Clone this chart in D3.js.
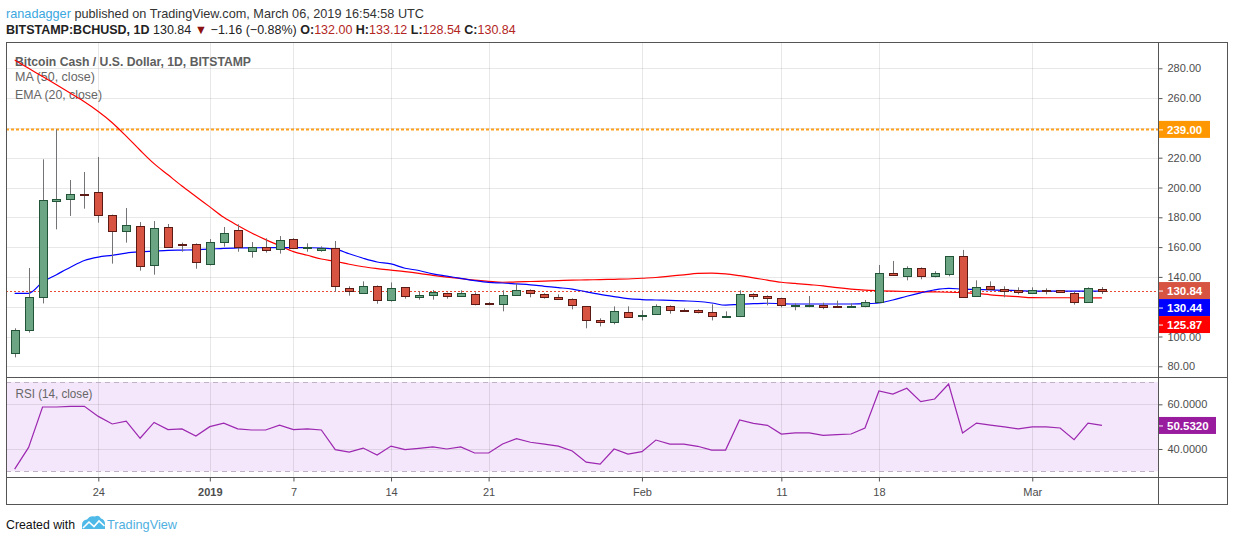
<!DOCTYPE html>
<html>
<head>
<meta charset="utf-8">
<title>BCHUSD 1D</title>
<script src="https://cdn.jsdelivr.net/npm/d3@7/dist/d3.min.js"></script>
<style>
	body { margin: 0; background: #fff; }
	svg { display: block; font-family: "Liberation Sans", Arial, sans-serif; }
</style>
</head>
<body>
<div id="chart"></div>
<script>
var dates = [
	"2018-12-18","2018-12-19","2018-12-20","2018-12-21","2018-12-22","2018-12-23","2018-12-24","2018-12-25","2018-12-26","2018-12-27",
	"2018-12-28","2018-12-29","2018-12-30","2018-12-31","2019-01-01","2019-01-02","2019-01-03","2019-01-04","2019-01-05","2019-01-06",
	"2019-01-07","2019-01-08","2019-01-09","2019-01-10","2019-01-11","2019-01-12","2019-01-13","2019-01-14","2019-01-15","2019-01-16",
	"2019-01-17","2019-01-18","2019-01-19","2019-01-20","2019-01-21","2019-01-22","2019-01-23","2019-01-24","2019-01-25","2019-01-26",
	"2019-01-27","2019-01-28","2019-01-29","2019-01-30","2019-01-31","2019-02-01","2019-02-02","2019-02-03","2019-02-04","2019-02-05",
	"2019-02-06","2019-02-07","2019-02-08","2019-02-09","2019-02-10","2019-02-11","2019-02-12","2019-02-13","2019-02-14","2019-02-15",
	"2019-02-16","2019-02-17","2019-02-18","2019-02-19","2019-02-20","2019-02-21","2019-02-22","2019-02-23","2019-02-24","2019-02-25",
	"2019-02-26","2019-02-27","2019-02-28","2019-03-01","2019-03-02","2019-03-03","2019-03-04","2019-03-05","2019-03-06"
];
var open = [
	88.7,104.2,126.3,190.8,192.2,195.4,196.7,181.3,170.6,173.9,
	147.7,173.3,162.3,161.8,148.4,163.2,171.2,157.1,160.2,158.5,
	165.2,159.2,157.8,159.2,132.3,129.0,133.7,124.3,133.0,126.3,
	127.6,129.0,126.9,128.3,122.2,121.6,127.6,131.0,128.3,126.3,
	124.9,120.2,110.8,109.5,116.2,113.5,114.9,120.2,117.6,117.6,
	116.2,113.5,113.5,128.3,126.9,125.6,120.9,120.6,120.9,120.5,
	119.8,120.3,123.2,142.4,140.4,145.8,140.4,141.7,153.8,127.0,
	133.7,131.7,131.0,129.0,131.0,131.0,129.0,123.0,132.0
];
var high = [
	105.5,146.0,218.9,239.0,205.0,210.4,220.5,181.8,186.2,176.8,
	177.5,175.5,163.0,162.5,165.4,173.5,175.3,163.4,165.9,167.4,
	166.0,162.5,160.5,164.1,133.7,137.0,134.3,136.3,133.2,130.3,
	131.2,129.5,131.0,129.6,123.1,131.0,135.7,131.6,129.0,128.3,
	125.6,120.4,112.2,120.2,120.2,117.6,121.6,120.9,118.9,118.2,
	121.6,116.9,131.0,129.0,127.6,126.0,122.2,127.2,122.7,124.1,
	122.3,124.5,148.0,150.7,147.1,146.4,143.8,154.0,158.1,137.7,
	137.0,133.7,133.0,133.0,132.3,131.2,130.3,133.0,133.12
];
var low = [
	86.0,102.6,122.2,171.9,180.9,185.8,176.4,148.9,163.0,144.2,
	141.5,159.5,156.9,145.5,147.7,160.3,156.9,152.9,156.3,155.6,
	158.9,156.9,156.9,130.1,127.4,128.8,122.0,123.4,125.4,124.7,
	124.7,125.4,126.7,120.9,120.9,116.9,127.4,126.3,125.4,124.7,
	118.2,105.5,106.8,108.2,112.7,110.8,114.7,115.3,116.7,115.5,
	110.8,113.3,113.0,124.9,120.9,119.6,117.6,119.6,118.3,119.6,
	119.6,119.6,122.5,140.9,137.7,138.4,139.7,140.4,126.0,126.8,
	131.5,126.3,128.3,128.8,128.3,129.5,121.4,122.8,128.54
];
var close = [
	104.2,126.3,191.4,192.2,195.4,194.9,181.3,170.6,174.6,147.1,
	172.6,159.8,161.6,149.8,163.2,169.2,159.8,160.1,158.5,164.5,
	159.2,160.1,159.2,133.7,130.3,133.7,124.3,132.3,126.9,127.6,
	129.6,126.9,129.0,121.6,121.6,127.6,131.0,129.0,126.3,124.9,
	120.9,110.8,109.5,116.9,112.9,114.2,120.2,117.6,116.9,116.2,
	113.5,113.8,128.3,126.9,125.6,120.9,121.2,121.1,119.6,120.1,
	120.2,123.2,142.4,141.1,145.8,140.4,142.4,153.8,126.3,133.0,
	131.7,130.3,129.7,131.0,130.3,129.7,123.0,132.4,130.84
];
var ma50 = [
	285.5,280,274.5,269,263.3,257.5,251,243.5,234.5,225,
	216,208.5,201,194,187,180,174.5,169.5,165,161,
	157,154.5,152,150.5,148.5,146.8,145.6,144.6,143.6,142.4,
	141,139.8,138.9,137.8,137,136.4,136.6,136.9,137.2,137.5,
	137.8,138,138.2,138.4,138.6,139.1,139.6,140.5,141.4,142.3,
	142.6,142,140.8,139.4,137.8,136.4,135.6,134.8,134,132.8,
	131.8,131.1,130.7,130.4,130.2,130,129.9,129.7,129.4,128.9,
	128,127.3,126.7,126.1,126,126,126,125.9,125.87
];
var ema20 = [
	129,129,136.5,141.5,146.5,151,153.3,154.5,156,156.8,
	157.3,157.8,158,158.2,158.6,159.2,159.4,159.5,159.6,159.7,
	159.7,159.6,159.4,158.7,155.5,152.5,150,148.7,145.8,144.3,
	142,140.5,139,137.5,136.3,135.9,135.3,134.7,133.7,132.8,
	131.8,130,128.3,126.8,125.4,124.8,124.5,124.2,123.9,123.5,
	122.5,121,121.6,122,122.3,122,121.8,121.8,121.8,121.8,
	121.8,122,122.5,124.5,127,129.3,131.3,132.3,131.8,131.6,
	131.3,131,130.8,130.5,130.5,130.5,130.4,130.4,130.44
];
var rsi = [
	31.0,40.7,58.8,58.8,59.1,59.1,54.6,51.2,52.5,44.8,
	51.9,48.7,49.0,45.8,50.0,51.6,49.0,48.5,48.5,50.7,
	48.7,49.0,48.5,39.7,38.6,40.4,37.3,41.3,39.7,40.3,
	40.9,40.0,40.9,38.2,38.2,42.2,44.6,43.0,42.2,41.3,
	39.1,34.1,33.2,40.0,37.7,38.8,44.0,42.2,42.2,41.2,
	39.5,39.5,53.0,51.5,50.6,46.7,47.2,47.2,46.1,46.4,
	46.7,49.4,66.0,64.6,67.2,61.2,62.4,69.1,47.2,51.6,
	50.7,49.9,49.0,49.9,49.9,49.4,44.2,51.6,50.532
];
var xTickDates = ["2018-12-24","2019-01-01","2019-01-07","2019-01-14","2019-01-21","2019-02-01","2019-02-11","2019-02-18","2019-03-01"];
var xTickLabels = ["24","2019","7","14","21","Feb","11","18","Mar"];
var priceTicks = [80,100,120,140,160,180,200,220,240,260,280];
var rsiTicks = [40,60];
var rsiBands = [30,70];
var resistance = 239;

(function() {
	"use strict";

	var chartWidth = 1234,
		chartHeight = 541,
		pane = { left: 6, right: 1158, outer: 1227, top: 42, mainBottom: 376.5, rsiBottom: 477, bottom: 504 },
		upFill = "#6ba583", upLine = "#225437",
		downFill = "#d75442", downLine = "#5b1a13",
		wickColor = "#737375",
		gridColor = "rgba(0,0,0,0.09)",
		frameColor = "#555",
		textColor = "#4d4d4d",
		valueRed = "#b3261e",
		parseDate = d3.utcParse("%Y-%m-%d"),
		boxH = 17,
		svg, x, y, yRsi, candles, mainG, lineGen;

	candles = dates.map(function(d, i) {
		return { date: parseDate(d), o: open[i], h: high[i], l: low[i], c: close[i], ma: ma50[i], ema: ema20[i], rsi: rsi[i] };
	});

	x = d3.scaleUtc()
		.domain([new Date(Date.UTC(2018, 11, 17, 9, 5)), new Date(Date.UTC(2019, 2, 10, 0, 30))])
		.range([pane.left, pane.right]);
	y = d3.scaleLinear().domain([80, 280]).range([366.3, 68.3]);
	yRsi = d3.scaleLinear().domain([30, 70]).range([471.3, 382]);

	svg = d3.select("#chart")
		.append("svg")
		.attr("width", chartWidth)
		.attr("height", chartHeight);

	var defs = svg.append("defs");
	defs.append("clipPath").attr("id", "clipMain")
		.append("rect")
		.attr("x", pane.left).attr("y", pane.top)
		.attr("width", pane.right - pane.left).attr("height", pane.mainBottom - pane.top);
	defs.append("clipPath").attr("id", "clipRsi")
		.append("rect")
		.attr("x", pane.left).attr("y", pane.mainBottom)
		.attr("width", pane.right - pane.left).attr("height", pane.rsiBottom - pane.mainBottom);

	// header
	var h1 = svg.append("text")
		.attr("x", 6).attr("y", 17.8)
		.attr("font-size", 13)
		.attr("textLength", 418).attr("lengthAdjust", "spacingAndGlyphs");
	h1.append("tspan").attr("fill", "#3ba7e0").text("ranadagger");
	h1.append("tspan").attr("fill", "#333").text(" published on TradingView.com, March 06, 2019 16:54:58 UTC");

	var h2parts = [
		{ t: "BITSTAMP:BCHUSD, 1D ", bold: true, c: "#222" },
		{ t: "130.84 ", c: "#222" },
		{ t: "\u25BC ", c: "#8b1010" },
		{ t: "\u22121.16 (\u22120.88%) ", c: "#222" },
		{ t: "O:", bold: true, c: "#222" },
		{ t: "132.00 ", c: valueRed },
		{ t: "H:", bold: true, c: "#222" },
		{ t: "133.12 ", c: valueRed },
		{ t: "L:", bold: true, c: "#222" },
		{ t: "128.54 ", c: valueRed },
		{ t: "C:", bold: true, c: "#222" },
		{ t: "130.84", c: valueRed }
	];
	svg.append("text")
		.attr("x", 6).attr("y", 34)
		.attr("font-size", 12.5)
		.style("white-space", "pre")
		.selectAll("tspan")
		.data(h2parts)
		.enter()
		.append("tspan")
		.attr("font-weight", function(d) { return d.bold ? "bold" : "normal"; })
		.attr("fill", function(d) { return d.c; })
		.text(function(d) { return d.t; });

	// rsi background + bands
	svg.append("rect")
		.attr("x", pane.left).attr("width", pane.right - pane.left)
		.attr("y", yRsi(rsiBands[1])).attr("height", yRsi(rsiBands[0]) - yRsi(rsiBands[1]))
		.attr("fill", "#f4e6fb");

	// grid
	var grid = svg.append("g").attr("stroke", gridColor).attr("stroke-width", 1);
	grid.selectAll("line.h")
		.data(priceTicks)
		.enter()
		.append("line")
		.attr("x1", pane.left).attr("x2", pane.right)
		.attr("y1", function(d) { return Math.round(y(d)) + 0.5; })
		.attr("y2", function(d) { return Math.round(y(d)) + 0.5; });
	grid.selectAll("line.r")
		.data(rsiTicks)
		.enter()
		.append("line")
		.attr("x1", pane.left).attr("x2", pane.right)
		.attr("y1", function(d) { return Math.round(yRsi(d)) + 0.5; })
		.attr("y2", function(d) { return Math.round(yRsi(d)) + 0.5; });
	grid.selectAll("line.v")
		.data(xTickDates)
		.enter()
		.append("line")
		.attr("x1", function(d) { return Math.round(x(parseDate(d))) + 0.5; })
		.attr("x2", function(d) { return Math.round(x(parseDate(d))) + 0.5; })
		.attr("y1", pane.top).attr("y2", pane.rsiBottom);

	svg.append("g").selectAll("line")
		.data(rsiBands)
		.enter()
		.append("line")
		.attr("x1", pane.left).attr("x2", pane.right)
		.attr("y1", function(d) { return Math.round(yRsi(d)) + 0.5; })
		.attr("y2", function(d) { return Math.round(yRsi(d)) + 0.5; })
		.attr("stroke", "#bfb2c6")
		.attr("stroke-dasharray", "5,4");

	// titles
	svg.append("text")
		.attr("x", 15).attr("y", 65.5)
		.attr("font-size", 13).attr("font-weight", "bold").attr("fill", "#5e5e5e")
		.attr("textLength", 236).attr("lengthAdjust", "spacingAndGlyphs")
		.text("Bitcoin Cash / U.S. Dollar, 1D, BITSTAMP");
	svg.append("text")
		.attr("x", 15).attr("y", 81)
		.attr("font-size", 13).attr("fill", "#666")
		.attr("textLength", 80).attr("lengthAdjust", "spacingAndGlyphs")
		.text("MA (50, close)");
	svg.append("text")
		.attr("x", 15).attr("y", 99)
		.attr("font-size", 13).attr("fill", "#666")
		.attr("textLength", 87).attr("lengthAdjust", "spacingAndGlyphs")
		.text("EMA (20, close)");
	svg.append("text")
		.attr("x", 15.5).attr("y", 397.5)
		.attr("font-size", 13).attr("fill", "#666")
		.attr("textLength", 77).attr("lengthAdjust", "spacingAndGlyphs")
		.text("RSI (14, close)");

	mainG = svg.append("g").attr("clip-path", "url(#clipMain)");

	// horizontal level + last price
	mainG.append("line")
		.attr("x1", pane.left).attr("x2", pane.right)
		.attr("y1", y(resistance)).attr("y2", y(resistance))
		.attr("stroke", "#ffa01c").attr("stroke-width", 2)
		.attr("stroke-dasharray", "3,2");
	mainG.append("line")
		.attr("x1", pane.left).attr("x2", pane.right)
		.attr("y1", Math.round(y(close[close.length - 1])) + 0.5)
		.attr("y2", Math.round(y(close[close.length - 1])) + 0.5)
		.attr("stroke", "#ea4a33")
		.attr("stroke-dasharray", "2,2");

	// moving averages
	lineGen = function(key, scale) {
		return d3.line()
			.x(function(d) { return x(d.date); })
			.y(function(d) { return scale(d[key]); })
			.curve(d3.curveMonotoneX);
	};
	mainG.append("path")
		.datum(candles)
		.attr("d", lineGen("ma", y))
		.attr("fill", "none").attr("stroke", "#ff0000").attr("stroke-width", 1.2);
	mainG.append("path")
		.datum(candles)
		.attr("d", lineGen("ema", y))
		.attr("fill", "none").attr("stroke", "#0000ff").attr("stroke-width", 1.2);

	// candles
	var cg = mainG.selectAll("g.candle")
		.data(candles)
		.enter()
		.append("g")
		.attr("class", "candle");
	cg.append("line")
		.attr("x1", function(d) { return Math.round(x(d.date)) + 0.5; })
		.attr("x2", function(d) { return Math.round(x(d.date)) + 0.5; })
		.attr("y1", function(d) { return y(d.h); })
		.attr("y2", function(d) { return y(d.l); })
		.attr("stroke", wickColor);
	cg.append("rect")
		.attr("x", function(d) { return Math.round(x(d.date)) - 3.5; })
		.attr("width", 8)
		.attr("y", function(d) { return Math.round(y(Math.max(d.o, d.c))) + 0.5; })
		.attr("height", function(d) { return Math.max(1, Math.round(Math.abs(y(d.o) - y(d.c)))); })
		.attr("fill", function(d) { return d.c >= d.o ? upFill : downFill; })
		.attr("stroke", function(d) { return d.c >= d.o ? upLine : downLine; })
		.attr("stroke-width", 1);

	// rsi line
	svg.append("path")
		.datum(candles)
		.attr("clip-path", "url(#clipRsi)")
		.attr("d", d3.line().x(function(d) { return x(d.date); }).y(function(d) { return yRsi(d.rsi); }))
		.attr("fill", "none").attr("stroke", "#9c27b0").attr("stroke-width", 1.2);

	// frame
	var frame = svg.append("g").attr("stroke", frameColor).attr("fill", "none");
	frame.append("rect")
		.attr("x", pane.left + 0.5).attr("y", pane.top + 0.5)
		.attr("width", pane.outer - pane.left).attr("height", pane.bottom - pane.top);
	frame.append("line")
		.attr("x1", pane.right + 0.5).attr("x2", pane.right + 0.5)
		.attr("y1", pane.top).attr("y2", pane.bottom);
	frame.selectAll("line.sep")
		.data([pane.mainBottom, pane.rsiBottom])
		.enter()
		.append("line")
		.attr("x1", pane.left).attr("x2", pane.outer)
		.attr("y1", function(d) { return Math.round(d) + 0.5; })
		.attr("y2", function(d) { return Math.round(d) + 0.5; });

	// axes
	var styleAxis = function(g) {
		g.select(".domain").remove();
		g.selectAll(".tick line").attr("stroke", frameColor);
		g.selectAll(".tick text")
			.attr("fill", textColor)
			.attr("font-size", 11)
			.attr("font-family", "Liberation Sans, Arial, sans-serif");
	};
	svg.append("g")
		.attr("transform", "translate(" + (pane.right + 0.5) + ",0)")
		.call(d3.axisRight(y).tickValues(priceTicks).tickFormat(d3.format(".2f")).tickSize(4).tickPadding(5))
		.call(styleAxis);
	svg.append("g")
		.attr("transform", "translate(" + (pane.right + 0.5) + ",0)")
		.call(d3.axisRight(yRsi).tickValues(rsiTicks).tickFormat(d3.format(".4f")).tickSize(4).tickPadding(5))
		.call(styleAxis);
	svg.append("g")
		.attr("transform", "translate(0," + (pane.rsiBottom + 0.5) + ")")
		.call(d3.axisBottom(x)
			.tickValues(xTickDates.map(parseDate))
			.tickFormat(function(d, i) { return xTickLabels[i]; })
			.tickSize(4).tickPadding(7))
		.call(styleAxis)
		.selectAll(".tick text")
		.attr("font-weight", function(d, i) { return xTickLabels[i] === "2019" ? "bold" : "normal"; });

	// price labels on the axis
	var labels = [
		{ v: close[close.length - 1], bg: downFill },
		{ v: ema20[ema20.length - 1], bg: "#0000ff" },
		{ v: ma50[ma50.length - 1], bg: "#ff0000" }
	];
	labels.sort(function(a, b) { return b.v - a.v; });
	var prevY = -Infinity;
	labels.forEach(function(d) {
		d.cy = Math.max(y(d.v), prevY + boxH);
		prevY = d.cy;
	});
	labels.push({ v: resistance, bg: "#ff9800", cy: y(resistance) });
	var lg = svg.append("g").selectAll("g")
		.data(labels)
		.enter()
		.append("g")
		.attr("transform", function(d) { return "translate(" + (pane.right + 1) + "," + d.cy + ")"; });
	lg.append("rect")
		.attr("x", 0).attr("y", -boxH / 2)
		.attr("width", 51).attr("height", boxH)
		.attr("fill", function(d) { return d.bg; });
	lg.append("line")
		.attr("x1", 0).attr("x2", 4).attr("y1", 0.5).attr("y2", 0.5)
		.attr("stroke", "#fff");
	lg.append("text")
		.attr("x", 8).attr("dy", "0.36em")
		.attr("font-size", 11.5).attr("font-weight", "bold").attr("fill", "#fff")
		.text(function(d) { return d3.format(".2f")(d.v); });

	var rl = svg.append("g")
		.attr("transform", "translate(" + (pane.right + 1) + "," + yRsi(rsi[rsi.length - 1]) + ")");
	rl.append("rect")
		.attr("x", 0).attr("y", -8.5)
		.attr("width", 57).attr("height", 17)
		.attr("fill", "#991b9e");
	rl.append("line")
		.attr("x1", 0).attr("x2", 4).attr("y1", 0.5).attr("y2", 0.5)
		.attr("stroke", "#fff");
	rl.append("text")
		.attr("x", 8).attr("dy", "0.36em")
		.attr("font-size", 11.5).attr("font-weight", "bold").attr("fill", "#fff")
		.text(d3.format(".4f")(rsi[rsi.length - 1]));

	// footer
	svg.append("text")
		.attr("x", 6).attr("y", 528.5)
		.attr("font-size", 13).attr("fill", "#111")
		.attr("textLength", 69).attr("lengthAdjust", "spacingAndGlyphs")
		.text("Created with");
	svg.append("path")
		.attr("d", "M82,529 L82,525 Q82,520 87,519.5 Q90,515 95,516.5 Q99,514.5 101,518.5 Q105,519.5 105,524 L105,529 Z")
		.attr("fill", "#4fb9e8");
	svg.append("path")
		.attr("d", "M83,528 L89,522 L94,526.5 L99,521 L104.5,526")
		.attr("fill", "none").attr("stroke", "#fff").attr("stroke-width", 1.6);
	svg.append("text")
		.attr("x", 107).attr("y", 528.5)
		.attr("font-size", 13).attr("fill", "#4fb0e0")
		.attr("textLength", 70).attr("lengthAdjust", "spacingAndGlyphs")
		.text("TradingView");
})();
</script>
</body>
</html>
